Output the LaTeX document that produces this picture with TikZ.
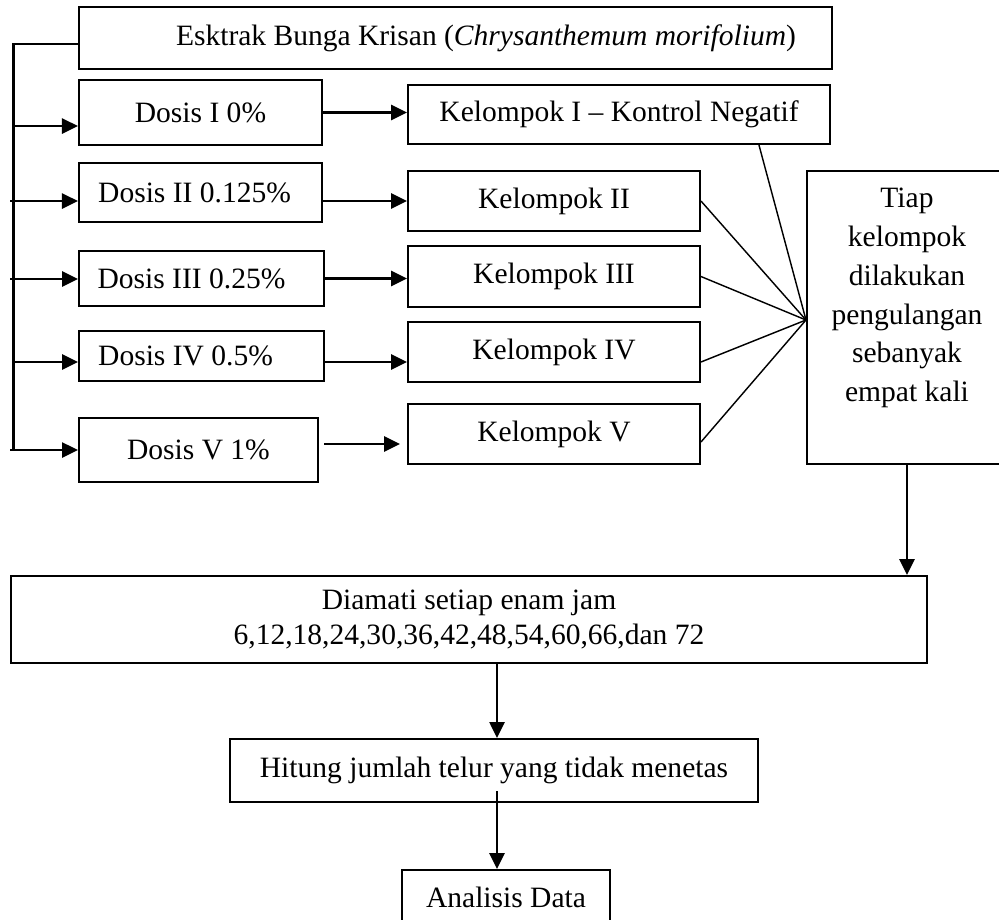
\documentclass[tikz,border=0pt]{standalone}
\usepackage{fontspec}
\setmainfont{Liberation Serif}
\usetikzlibrary{arrows.meta,calc}

\tikzset{
    kotak/.style={draw, line width=0.85pt, inner sep=0pt, align=center,
        font=\fontsize{12.4}{14.3}\selectfont},
    panah/.style={line width=1.1pt, -{Triangle[length=6.7pt,width=6.3pt]}},
    garis/.style={line width=0.6pt},
}

\begin{document}
\begin{tikzpicture}[x=0.42pt, y=-0.42pt]
    \useasboundingbox (0,0) rectangle (999,919);

    \node[kotak, minimum width=316.3pt, minimum height=26pt] (ekstrak) at (455.5,38)
        {\hspace*{25.6pt}Esktrak Bunga Krisan (\textit{Chrysanthemum morifolium})};

    \node[kotak, minimum width=102.1pt, minimum height=27.3pt] (d1) at (200.5,112.5) {Dosis I 0\%};
    \node[kotak, minimum width=102.1pt, minimum height=24.8pt] (d2) at (200.5,192.5) {Dosis II 0.125\%\hspace*{5pt}};
    \node[kotak, minimum width=102.9pt, minimum height=23.1pt] (d3) at (201.5,278.5) {Dosis III 0.25\%\hspace*{8.4pt}};
    \node[kotak, minimum width=102.9pt, minimum height=21pt] (d4) at (201.5,356) {Dosis IV 0.5\%\hspace*{13.4pt}};
    \node[kotak, minimum width=100.4pt, minimum height=26.9pt] (d5) at (198.5,450) {Dosis V 1\%};

    \node[kotak, minimum width=177.2pt, minimum height=24.8pt] (k1) at (619,114.5) {Kelompok I -- Kontrol Negatif};
    \node[kotak, minimum width=122.6pt, minimum height=25.2pt] (k2) at (554,201) {Kelompok II};
    \node[kotak, minimum width=122.6pt, minimum height=25.6pt] (k3) at (554,276.5) {Kelompok III};
    \node[kotak, minimum width=122.6pt, minimum height=25.2pt] (k4) at (554,352) {Kelompok IV};
    \node[kotak, minimum width=122.6pt, minimum height=25.2pt] (k5) at (554,434) {Kelompok V};

    \node[kotak, minimum width=84pt, minimum height=123.1pt] (tiap) at (907,317.5) {};
    \node[align=center, inner sep=0pt, font=\fontsize{12.4}{16.3}\selectfont] (tiapteks) at (907,298)
        {Tiap\\kelompok\\dilakukan\\pengulangan\\sebanyak\\empat kali};

    \node[kotak, minimum width=384.7pt, minimum height=36.5pt] (diamati) at (469,619.5)
        {Diamati setiap enam jam\\6,12,18,24,30,36,42,48,54,60,66,dan 72};
    \node[kotak, minimum width=221.8pt, minimum height=26.5pt] (hitung) at (494,770.5)
        {Hitung jumlah telur yang tidak menetas};
    \node[kotak, minimum width=87.4pt, minimum height=23.1pt] (analisis) at (506,897.5) {Analisis Data};

    \coordinate (atas) at (13.5,44);
    \coordinate (bawah) at (13.5,450);
    \draw[line width=0.9pt] (ekstrak.west |- atas) -- (atas) -- (bawah);
    \foreach \d/\y/\x in {d1/126/13, d2/201/10, d3/279/10, d4/362/13, d5/450/10} {
        \coordinate (c\d) at (\x,\y);
        \draw[panah] (c\d) -- (\d.west |- c\d);
    }

    \draw[panah] (d1.east) -- (k1.west |- d1.east);
    \draw[panah] (d2.east |- k2.west) -- (k2.west);
    \draw[panah] (d3.east) -- (k3.west |- d3.east);
    \coordinate (p4) at ($(d4.east)+(0,6)$);
    \draw[panah] (p4) -- (p4 -| k4.west);
    \coordinate (p5) at ($(d5.east)+(5,-6)$);
    \draw[panah] (p5) -- ($(p5 -| k5.west)+(-7,0)$);

    \coordinate (hub) at ($(tiap.west)+(0,2.5)$);
    \draw[garis] ($(k1.south east)+(-72,0)$) -- (hub);
    \draw[garis] (k2.east) -- (hub);
    \draw[garis] (k3.east) -- (hub);
    \draw[garis] ($(k4.east)+(0,10)$) -- (hub);
    \draw[garis] ($(k5.east)+(0,8)$) -- (hub);

    \draw[panah] (tiap.south) -- (tiap.south |- diamati.north);
    \draw[panah] ($(hitung.north |- diamati.south)+(3,0)$) -- ($(hitung.north)+(3,0)$);
    \coordinate (q1) at ($(hitung.south)+(3,-12)$);
    \draw[panah] (q1) -- (q1 |- analisis.north);
\end{tikzpicture}
\end{document}
